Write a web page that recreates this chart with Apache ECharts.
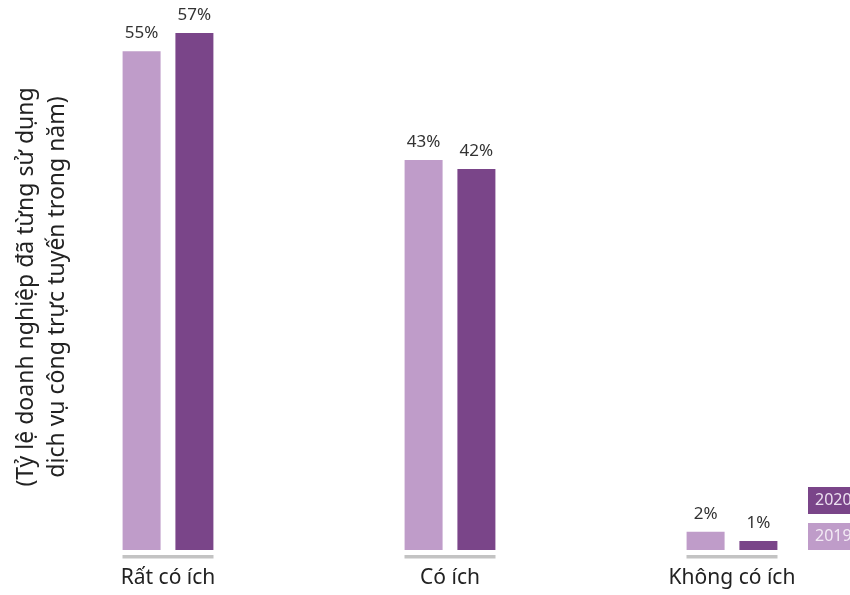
<!DOCTYPE html>
<html><head><meta charset="utf-8">
<script src="https://cdn.jsdelivr.net/npm/echarts@6/dist/echarts.min.js"></script>
<style>html,body{margin:0;padding:0;background:#fff}#c{width:850px;height:595px}</style>
</head><body><div id="c"></div>
<script>
const categories = ['Rất có ích', 'Có ích', 'Không có ích'];
const values2019 = [55, 43, 2];
const values2020 = [57, 42, 1];
const seriesNames = ['2019', '2020'];
const yAxisTitle = '(Tỷ lệ doanh nghiệp đã từng sử dụng\ndịch vụ công trực tuyến trong năm)';

const C2019 = '#bf9cc9', C2020 = '#7a4589';
const FONT = 'Noto Sans';
const chart = echarts.init(document.getElementById('c'));
chart.setOption({
  animation: false,
  textStyle: { fontFamily: FONT },
  grid: { left: 27, width: 846, top: 33, height: 517, outerBoundsMode: 'none', containLabel: false },
  legend: {
    orient: 'vertical', left: 803, top: 487, itemGap: 9, padding: 0,
    icon: 'none', itemWidth: 0, itemHeight: 0,
    data: [
      { name: seriesNames[1], textStyle: { backgroundColor: C2020, color: '#ecdff0', padding: [6, 8, 5, 7], fontSize: 16, lineHeight: 16 } },
      { name: seriesNames[0], textStyle: { backgroundColor: C2019, color: '#f3eaf5', padding: [6, 8, 5, 7], fontSize: 16, lineHeight: 16 } }
    ],
    selectedMode: false
  },
  graphic: [{
    type: 'text', x: 42, y: 287, rotation: Math.PI / 2,
    style: { text: yAxisTitle, fontFamily: FONT, fontSize: 23, lineHeight: 31, fill: '#222', align: 'center', verticalAlign: 'middle' }
  }],
  xAxis: {
    type: 'category', data: categories,
    axisLine: { show: false }, axisTick: { show: false },
    axisLabel: { fontSize: 21, color: '#222', margin: 18 }
  },
  yAxis: {
    type: 'value', min: 0, max: 57,
    axisLine: { show: false }, axisTick: { show: false }, axisLabel: { show: false }, splitLine: { show: false }
  },
  series: [
    { name: seriesNames[0], type: 'bar', data: values2019, barWidth: 38, barGap: '39%',
      itemStyle: { color: C2019 },
      label: { show: true, position: 'top', distance: 9, fontSize: 17, color: '#333', formatter: '{c}%' } },
    { name: seriesNames[1], type: 'bar', data: values2020, barWidth: 38,
      itemStyle: { color: C2020 },
      label: { show: true, position: 'top', distance: 9, fontSize: 17, color: '#333', formatter: '{c}%' } },
    { type: 'custom', data: categories.map((c, i) => i), silent: true,
      renderItem: function (params, api) {
        const p = api.coord([api.value(0), 0]);
        return { type: 'rect', shape: { x: p[0] - 45.5, y: p[1] + 5, width: 91, height: 3.5 }, style: { fill: '#c3c3c3' } };
      } }
  ]
});
</script></body></html>
